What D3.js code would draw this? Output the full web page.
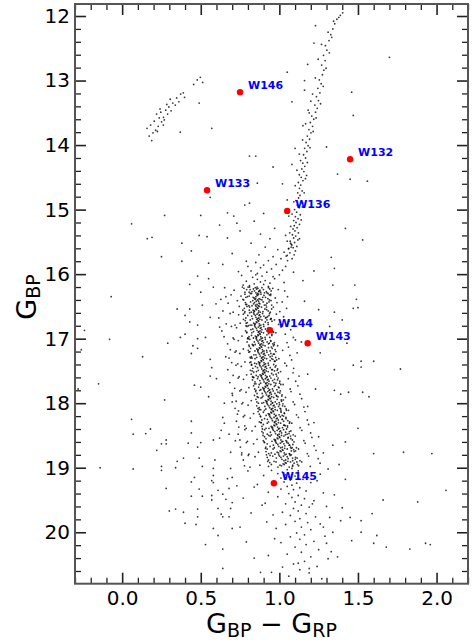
<!DOCTYPE html>
<html>
<head>
<meta charset="utf-8">
<script src="https://cdn.jsdelivr.net/npm/d3@7"></script>
<style>
  body { margin: 0; background: #fff; }
  svg { display: block; font-family: "DejaVu Sans", sans-serif; }
</style>
</head>
<body>
<svg width="472" height="643"></svg>
<script>
// ---- Data: [G_BP - G_RP, G_BP]

const giantBranch = [
  [1.052,15.79],[1.081,15.76],[1.043,15.72],[1.094,15.70],[1.067,15.67],[1.102,15.64],[1.058,15.61],[1.088,15.59],[1.111,15.57],[1.076,15.54],
  [1.097,15.51],[1.069,15.49],[1.118,15.47],[1.091,15.44],[1.104,15.41],[1.083,15.39],[1.121,15.36],[1.099,15.33],[1.087,15.30],[1.113,15.28],
  [1.095,15.25],[1.128,15.23],[1.106,15.20],[1.091,15.17],[1.119,15.14],[1.102,15.11],[1.133,15.08],[1.110,15.04],[1.097,15.00],[1.126,14.97],
  [1.114,14.93],[1.139,14.89],[1.105,14.86],[1.122,14.82],[1.131,14.78],[1.117,14.74],[1.145,14.71],[1.128,14.67],[1.136,14.62],[1.121,14.58],
  [1.150,14.55],[1.139,14.50],[1.127,14.46],[1.156,14.41],[1.143,14.37],[1.162,14.33],[1.149,14.28],[1.135,14.24],[1.167,14.20],[1.154,14.15],
  [1.175,14.10],[1.161,14.05],[1.183,14.01],[1.170,13.96],[1.192,13.91],[1.178,13.86],[1.201,13.81],[1.188,13.76],[1.211,13.71],[1.197,13.65],
  [1.219,13.60],[1.206,13.55],[1.230,13.49],[1.241,13.43],[1.226,13.38],[1.249,13.31],[1.236,13.25],[1.258,13.19],[1.245,13.12],[1.266,13.05],
  [1.254,12.99],[1.274,12.91],[1.283,12.84],[1.269,12.76],[1.291,12.69],[1.281,12.61],[1.302,12.53],[1.293,12.46],[1.316,12.38],[1.327,12.29],
  [1.340,12.20],[1.352,12.12],[1.366,12.05],[1.388,11.99],[1.403,11.95],[1.345,12.08],
  [1.05,14.85],[1.02,14.60],[1.08,14.30],[1.22,12.42],[1.16,13.00],[1.20,13.32],[1.06,15.10],[1.04,15.40],[1.15,13.70],[1.10,14.05],
  [1.18,12.75],[1.23,12.15],[1.072,15.26],[1.148,14.90],[1.071,15.52],[1.173,14.47]
];

const giantScatter = [
  [1.075,15.58],[1.128,15.45],[1.066,15.36],[1.139,15.16],[1.081,15.07],[1.147,14.96],[1.092,14.88],[1.158,14.74],[1.101,14.63],[1.166,14.52],
  [1.112,14.39],[1.178,14.27],[1.127,14.14],[1.195,14.04],[1.148,13.92],[1.215,13.79],[1.167,13.67],[1.234,13.58],[1.183,13.46],[1.262,13.36],
  [1.211,13.21],[1.279,13.09],[1.229,12.96],[1.297,12.81],[1.247,12.67],[1.318,12.57],[1.268,12.44],[1.333,12.33],[1.378,12.02],[1.310,12.25]
];

const horizontalBranch = [
  [.158,13.74],[.172,13.86],[.196,13.81],[.181,13.69],[.213,13.77],[.204,13.63],[.229,13.71],[.236,13.58],[.219,13.52],[.251,13.64],
  [.246,13.49],[.263,13.57],[.277,13.46],[.268,13.61],[.289,13.52],[.297,13.41],[.284,13.37],[.311,13.47],[.322,13.35],[.306,13.29],
  [.338,13.38],[.347,13.27],[.361,13.33],[.372,13.21],[.389,13.19],[.397,13.26],[.455,13.06],[.478,12.99],[.497,12.95],[.512,13.03],
  [.188,13.93],[.224,13.79],[.262,13.69],[.241,13.44]
];

const turnoffStars = [
  [.84,16.15],[.88,16.12],[.81,16.18],[.91,16.10],[.86,16.08],[.79,16.11],[.94,16.14],[.83,16.05],[.89,16.03],[.97,16.07],
  [.76,16.02],[.86,15.99],[.92,15.97],[1.00,16.01],[.82,15.95],[.95,15.92],[.88,15.90],[1.02,15.94],[.74,15.96],[.90,15.86],
  [.98,15.85],[.85,15.82],[1.04,15.88],[.93,15.79],[1.01,15.76],[.79,15.80],[.96,15.73],[1.05,15.71],[.87,15.70],[1.03,15.66],
  [.70,15.68],[.99,15.62],[1.06,15.60],[.91,15.58],[1.08,15.55],[.82,15.52],[1.05,15.49],[.94,15.45],[.67,15.44],[.88,15.38],
  [.75,15.33],[.97,15.29],[.62,15.24],[.84,15.18],[.71,15.10],[.90,15.06],[.81,16.20],[.93,16.19],[.77,16.17],[1.03,16.13],
  [.90,16.16],[.85,16.01],[.96,16.04],[.80,15.88],[1.09,15.97]
];

const mainSequence = [
  [.847,16.21],[.872,16.26],[.835,16.23],[.881,16.28],[.858,16.20],[.899,16.24],[.826,16.27],[.864,16.22],[.851,16.29],[.877,16.25],[.842,16.26],[.889,16.21],[.869,16.27],[.814,16.24],[.856,16.23],[.905,16.29],
  [.712,16.25],[.958,16.22],[.781,16.28],[1.034,16.26],[.652,16.21],[.921,16.29],[.765,16.20],[.993,16.24],
  [.862,16.33],[.839,16.37],[.883,16.31],[.851,16.35],[.823,16.30],[.871,16.38],[.857,16.32],[.894,16.36],[.845,16.39],[.808,16.34],[.868,16.31],[.879,16.39],[.833,16.36],[.861,16.30],[.902,16.33],[.849,16.38],
  [.756,16.34],[.974,16.37],[.693,16.32],[.928,16.30],[.628,16.39],[1.052,16.35],[.787,16.36],[.945,16.31],
  [.853,16.42],[.876,16.46],[.831,16.41],[.866,16.49],[.842,16.44],[.889,16.40],[.858,16.47],[.817,16.43],[.871,16.45],[.848,16.48],[.897,16.43],[.836,16.46],[.862,16.40],[.905,16.48],[.826,16.49],[.868,16.42],
  [.733,16.41],[.951,16.48],[.674,16.45],[1.018,16.43],[.792,16.47],[.937,16.40],[.597,16.46],[.985,16.44],
  [.864,16.53],[.842,16.57],[.887,16.51],[.855,16.55],[.821,16.59],[.873,16.50],[.849,16.54],[.896,16.58],[.861,16.52],[.833,16.56],[.878,16.59],[.811,16.51],[.869,16.57],[.852,16.50],[.908,16.54],[.839,16.58],
  [.768,16.56],[.962,16.51],[.706,16.59],[1.046,16.53],[.745,16.50],[.919,16.55],[.641,16.57],[1.003,16.58],
  [.858,16.62],[.881,16.66],[.836,16.60],[.869,16.68],[.847,16.64],[.893,16.61],[.862,16.69],[.824,16.65],[.875,16.63],[.851,16.67],[.902,16.65],[.839,16.62],[.866,16.60],[.912,16.68],[.829,16.69],[.871,16.64],
  [.741,16.63],[.948,16.69],[.687,16.61],[1.027,16.66],[.779,16.60],[.934,16.64],[.615,16.68],[.981,16.62],
  [.868,16.73],[.846,16.77],[.889,16.71],[.857,16.75],[.825,16.79],[.876,16.70],[.853,16.74],[.899,16.78],[.864,16.72],[.837,16.76],[.882,16.79],[.815,16.71],[.872,16.77],[.856,16.70],[.911,16.74],[.843,16.78],
  [.751,16.76],[.969,16.71],[.718,16.79],[1.061,16.73],[.772,16.70],[.928,16.75],[.662,16.77],[.995,16.78],
  [.866,16.82],[.889,16.86],[.843,16.80],[.877,16.88],[.854,16.84],[.901,16.81],[.869,16.89],[.831,16.85],[.884,16.83],[.858,16.87],[.912,16.85],[.847,16.82],[.874,16.80],[.921,16.88],[.836,16.89],[.879,16.84],
  [.728,16.83],[.956,16.89],[.695,16.81],[1.072,16.86],[.788,16.80],[.941,16.84],[.634,16.88],[1.011,16.82],
  [.878,16.93],[.856,16.97],[.899,16.91],[.867,16.95],[.835,16.99],[.886,16.90],[.863,16.94],[.909,16.98],[.874,16.92],[.847,16.96],[.892,16.99],[.825,16.91],[.882,16.97],[.866,16.90],[.921,16.94],[.853,16.98],
  [.762,16.96],[.978,16.91],[.706,16.99],[1.038,16.93],[.793,16.90],[.952,16.95],[.648,16.97],[1.089,16.98],
  [.876,17.02],[.899,17.06],[.853,17.00],[.887,17.08],[.864,17.04],[.911,17.01],[.879,17.09],[.841,17.05],[.894,17.03],[.868,17.07],[.922,17.05],[.857,17.02],[.884,17.00],[.931,17.08],[.846,17.09],[.889,17.04],
  [.739,17.03],[.967,17.09],[.712,17.01],[1.049,17.06],[.798,17.00],[.946,17.04],[.671,17.08],[1.102,17.02],
  [.888,17.13],[.866,17.17],[.909,17.11],[.877,17.15],[.845,17.19],[.896,17.10],[.873,17.14],[.919,17.18],[.884,17.12],[.857,17.16],[.902,17.19],[.835,17.11],[.892,17.17],[.876,17.10],[.931,17.14],[.863,17.18],
  [.771,17.16],[.989,17.11],[.725,17.19],[1.058,17.13],[.806,17.10],[.955,17.15],[.688,17.17],[1.021,17.18],
  [.886,17.22],[.909,17.26],[.863,17.20],[.897,17.28],[.874,17.24],[.921,17.21],[.889,17.29],[.851,17.25],[.904,17.23],[.878,17.27],[.932,17.25],[.867,17.22],[.894,17.20],[.941,17.28],[.856,17.29],[.899,17.24],
  [.749,17.23],[.977,17.29],[.718,17.21],[1.067,17.26],[.812,17.20],[.962,17.24],[.659,17.28],[1.113,17.22],
  [.898,17.33],[.876,17.37],[.919,17.31],[.887,17.35],[.855,17.39],[.906,17.30],[.883,17.34],[.929,17.38],[.894,17.32],[.867,17.36],[.912,17.39],[.845,17.31],[.902,17.37],[.886,17.30],[.941,17.34],[.873,17.38],
  [.781,17.36],[.997,17.31],[.736,17.39],[1.078,17.33],[.819,17.30],[.969,17.35],[.697,17.37],[1.035,17.38],
  [.896,17.42],[.919,17.46],[.873,17.40],[.907,17.48],[.884,17.44],[.931,17.41],[.899,17.49],[.861,17.45],[.914,17.43],[.888,17.47],[.942,17.45],[.877,17.42],[.904,17.40],[.951,17.48],[.866,17.49],[.909,17.44],
  [.758,17.43],[.986,17.49],[.724,17.41],[1.091,17.46],[.823,17.40],[.973,17.44],[.672,17.48],[1.046,17.42],
  [.908,17.53],[.886,17.57],[.929,17.51],[.897,17.55],[.865,17.59],[.916,17.50],[.893,17.54],[.939,17.58],[.904,17.52],[.877,17.56],[.922,17.59],[.855,17.51],[.912,17.57],[.896,17.50],[.951,17.54],[.883,17.58],
  [.792,17.56],[1.008,17.51],[.744,17.59],[1.087,17.53],[.827,17.50],[.979,17.55],[.706,17.57],[1.125,17.58],
  [.911,17.62],[.934,17.66],[.888,17.60],[.922,17.68],[.899,17.64],[.946,17.61],[.914,17.69],[.876,17.65],[.929,17.63],[.903,17.67],[.957,17.65],[.892,17.62],[.919,17.60],[.966,17.68],[.881,17.69],[.924,17.64],
  [.772,17.63],[1.001,17.69],[.738,17.61],[1.104,17.66],[.835,17.60],[.988,17.64],[.685,17.68],[1.057,17.62],
  [.925,17.73],[.903,17.77],[.946,17.71],[.914,17.75],[.882,17.79],[.933,17.70],[.910,17.74],[.956,17.78],[.921,17.72],[.894,17.76],[.939,17.79],[.872,17.71],[.929,17.77],[.913,17.70],[.968,17.74],[.900,17.78],
  [.806,17.76],[1.024,17.71],[.757,17.79],[1.118,17.73],[.842,17.70],[.994,17.75],[.716,17.77],[1.069,17.78],
  [.926,17.82],[.949,17.86],[.903,17.80],[.937,17.88],[.914,17.84],[.961,17.81],[.929,17.89],[.891,17.85],[.944,17.83],[.918,17.87],[.972,17.85],[.907,17.82],[.934,17.80],[.981,17.88],[.896,17.89],[.939,17.84],
  [.788,17.83],[1.016,17.89],[.749,17.81],[1.131,17.86],[.851,17.80],[1.003,17.84],[.702,17.88],[1.074,17.82],
  [.943,17.93],[.921,17.97],[.964,17.91],[.932,17.95],[.900,17.99],[.951,17.90],[.928,17.94],[.974,17.98],[.939,17.92],[.912,17.96],[.957,17.99],[.890,17.91],[.947,17.97],[.931,17.90],[.986,17.94],[.918,17.98],
  [.821,17.96],[1.039,17.91],[.768,17.99],[1.142,17.93],[.859,17.90],[1.012,17.95],[.725,17.97],[1.088,17.98],
  [.946,18.02],[.972,18.06],[.921,18.00],[.958,18.08],[.933,18.04],[.984,18.01],[.949,18.09],[.908,18.05],[.966,18.03],[.938,18.07],[.995,18.05],[.925,18.02],[.955,18.00],[1.004,18.08],[.914,18.09],[.961,18.04],
  [.801,18.03],[1.043,18.09],[.762,18.01],[1.156,18.06],[.867,18.00],[1.021,18.04],[.718,18.08],[1.097,18.02],
  [.963,18.13],[.938,18.17],[.987,18.11],[.951,18.15],[.916,18.19],[.973,18.10],[.946,18.14],[.998,18.18],[.959,18.12],[.929,18.16],[.979,18.19],[.905,18.11],[.968,18.17],[.950,18.10],[1.011,18.14],[.934,18.18],
  [.836,18.16],[1.058,18.11],[.779,18.19],[1.163,18.13],[.872,18.10],[1.031,18.15],[.733,18.17],[1.109,18.18],
  [.966,18.22],[.993,18.26],[.939,18.20],[.978,18.28],[.951,18.24],[1.006,18.21],[.969,18.29],[.924,18.25],[.987,18.23],[.956,18.27],[1.018,18.25],[.943,18.22],[.975,18.20],[1.027,18.28],[.931,18.29],[.981,18.24],
  [.815,18.23],[1.066,18.29],[.771,18.21],[1.178,18.26],[.879,18.20],[1.042,18.24],[.727,18.28],[1.121,18.22],
  [.983,18.33],[.957,18.37],[1.008,18.31],[.971,18.35],[.934,18.39],[.994,18.30],[.966,18.34],[1.020,18.38],[.979,18.32],[.948,18.36],[1.001,18.39],[.923,18.31],[.989,18.37],[.969,18.30],[1.033,18.34],[.953,18.38],
  [.847,18.36],[1.079,18.31],[.789,18.39],[1.186,18.33],[.885,18.30],[1.051,18.35],[.742,18.37],[1.132,18.38],
  [.986,18.42],[1.014,18.46],[.958,18.40],[.999,18.48],[.971,18.44],[1.027,18.41],[.989,18.49],[.943,18.45],[1.008,18.43],[.976,18.47],[1.040,18.45],[.962,18.42],[.995,18.40],[1.049,18.48],[.949,18.49],[1.002,18.44],
  [.826,18.43],[1.088,18.49],[.781,18.41],[1.199,18.46],[.892,18.40],[1.064,18.44],[.738,18.48],[1.143,18.42],
  [1.003,18.53],[.976,18.57],[1.029,18.51],[.991,18.55],[.953,18.59],[1.014,18.50],[.986,18.54],[1.042,18.58],[.999,18.52],[.967,18.56],[1.022,18.59],[.941,18.51],[1.010,18.57],[.989,18.50],[1.055,18.54],[.972,18.58],
  [.858,18.56],[1.101,18.51],[.797,18.59],[1.207,18.53],[.896,18.50],[1.073,18.55],[.749,18.57],[1.156,18.58],
  [1.006,18.62],[1.035,18.66],[.977,18.60],[1.019,18.68],[.990,18.64],[1.048,18.61],[1.009,18.69],[.962,18.65],[1.029,18.63],[.996,18.67],[1.062,18.65],[.981,18.62],[1.015,18.60],[1.071,18.68],[.968,18.69],
  [.836,18.63],[1.109,18.69],[.790,18.61],[1.221,18.66],[.903,18.60],[1.086,18.64],[.752,18.68],[1.164,18.62],
  [1.023,18.73],[.995,18.77],[1.050,18.71],[1.011,18.75],[.972,18.79],[1.034,18.70],[1.005,18.74],[1.063,18.78],[1.019,18.72],[.986,18.76],[1.043,18.79],[.960,18.71],[1.031,18.77],[1.076,18.74],
  [.867,18.76],[1.122,18.71],[.806,18.79],[1.233,18.73],[.911,18.70],[1.094,18.75],[.761,18.77],[1.178,18.78],
  [1.026,18.82],[1.056,18.86],[.996,18.80],[1.040,18.88],[1.010,18.84],[1.069,18.81],[1.029,18.89],[.981,18.85],[1.050,18.83],[1.016,18.87],[1.084,18.85],[1.001,18.82],[1.036,18.80],
  [.845,18.83],[1.131,18.89],[.802,18.81],[1.247,18.86],[.918,18.80],[1.103,18.84],[.771,18.88],[1.186,18.82],
  [1.043,18.93],[1.014,18.97],[1.071,18.91],[1.031,18.95],[.991,18.99],[1.054,18.90],[1.024,18.94],[1.084,18.98],[1.038,18.92],[1.004,18.96],[1.063,18.99],[.979,18.91],
  [.876,18.96],[1.142,18.91],[.813,18.99],[1.259,18.93],[.926,18.90],[1.116,18.95],[.778,18.97],[1.197,18.98]
];

// broader edge of the main sequence
const mainSequenceEdge = [
  [.792,16.24],[.931,16.21],[.808,16.28],[.948,16.26],[.775,16.22],[.917,16.27],[.801,16.20],[.939,16.23],
  [.781,16.31],[.927,16.38],[.797,16.35],[.944,16.33],[.768,16.39],[.912,16.36],[.815,16.30],[.936,16.32],
  [.786,16.47],[.934,16.43],[.773,16.40],[.921,16.45],[.806,16.49],[.947,16.41],[.784,16.44],[.915,16.48],
  [.794,16.50],[.929,16.57],[.777,16.53],[.942,16.59],[.809,16.56],[.918,16.51],[.781,16.58],[.951,16.54],
  [.787,16.68],[.938,16.61],[.799,16.64],[.925,16.66],[.771,16.62],[.947,16.69],[.811,16.60],[.916,16.67],
  [.796,16.75],[.943,16.70],[.783,16.72],[.929,16.78],[.814,16.79],[.953,16.73],[.789,16.76],[.921,16.71],
  [.803,16.80],[.948,16.85],[.785,16.88],[.934,16.83],[.819,16.86],[.958,16.89],[.794,16.81],[.926,16.84],
  [.807,16.97],[.953,16.93],[.792,16.91],[.939,16.98],[.823,16.95],[.963,16.90],[.799,16.99],[.931,16.92],
  [.812,17.01],[.958,17.08],[.795,17.05],[.944,17.03],[.828,17.09],[.968,17.06],[.804,17.00],[.936,17.07],
  [.817,17.15],[.963,17.11],[.802,17.18],[.949,17.13],[.833,17.10],[.973,17.17],[.809,17.12],[.941,17.19],
  [.822,17.28],[.968,17.24],[.806,17.21],[.954,17.27],[.838,17.25],[.978,17.20],[.814,17.29],[.946,17.23],
  [.827,17.30],[.973,17.35],[.812,17.37],[.959,17.32],[.843,17.38],[.983,17.33],[.819,17.36],[.951,17.31],
  [.831,17.46],[.978,17.42],[.816,17.49],[.964,17.40],[.848,17.43],[.989,17.47],[.823,17.41],[.956,17.48],
  [.837,17.52],[.983,17.58],[.821,17.55],[.969,17.50],[.853,17.57],[.994,17.53],[.829,17.59],[.961,17.56],
  [.845,17.67],[.992,17.61],[.829,17.64],[.978,17.69],[.861,17.62],[1.003,17.66],[.836,17.60],[.969,17.63],
  [.851,17.70],[.998,17.76],[.836,17.73],[.984,17.79],[.868,17.75],[1.009,17.71],[.843,17.78],[.975,17.72],
  [.858,17.85],[1.006,17.81],[.842,17.88],[.991,17.83],[.875,17.80],[1.017,17.87],[.849,17.82],[.983,17.89],
  [.866,17.91],[1.014,17.97],[.851,17.94],[.999,17.99],[.883,17.92],[1.025,17.95],[.857,17.98],[.991,17.90],
  [.872,18.07],[1.023,18.01],[.856,18.04],[1.009,18.09],[.889,18.00],[1.035,18.05],[.864,18.08],[1.001,18.02],
  [.881,18.10],[1.033,18.16],[.865,18.13],[1.018,18.19],[.898,18.14],[1.045,18.11],[.873,18.17],[1.010,18.12],
  [.889,18.26],[1.042,18.22],[.873,18.29],[1.027,18.20],[.906,18.24],[1.054,18.27],[.881,18.21],[1.019,18.25],
  [.898,18.33],[1.052,18.37],[.882,18.30],[1.037,18.35],[.915,18.39],[1.064,18.31],[.889,18.36],[1.028,18.34],
  [.906,18.41],[1.061,18.47],[.889,18.44],[1.046,18.40],[.923,18.48],[1.073,18.43],[.897,18.46],[1.038,18.49],
  [.915,18.55],[1.071,18.51],[.898,18.58],[1.056,18.53],[.932,18.50],[1.083,18.57],[.906,18.52],[1.047,18.59],
  [.923,18.63],[1.081,18.69],[.906,18.61],[1.066,18.65],[.941,18.67],[1.093,18.60],[.914,18.68],[1.057,18.62],
  [.932,18.78],[1.091,18.72],[.915,18.75],[1.075,18.70],[.949,18.77],[1.103,18.74],[.922,18.71],[1.066,18.79],
  [.941,18.81],[1.101,18.87],[.923,18.84],[1.085,18.89],[.958,18.82],[1.113,18.85],[.931,18.88],[1.076,18.80],
  [.949,18.95],[1.111,18.91],[.931,18.98],[1.094,18.93],[.966,18.90],[1.123,18.97],[.939,18.92],[1.085,18.96]
];

const faintSequence = [
  [1.05,19.03],[1.02,19.07],[1.08,19.01],[.99,19.09],[1.12,19.05],[1.04,19.11],[.95,19.04],[1.17,19.08],[1.06,19.14],[1.01,19.16],
  [1.10,19.13],[.90,19.12],[1.26,19.10],[1.07,19.19],[1.03,19.22],[1.11,19.24],[.97,19.21],[1.15,19.18],[1.08,19.27],[1.05,19.29],
  [.86,19.26],[1.20,19.23],[1.13,19.31],[1.09,19.34],[1.01,19.33],[1.17,19.36],[.93,19.38],[1.06,19.40],[1.28,19.39],[1.12,19.43],
  [1.08,19.46],[1.16,19.48],[.99,19.45],[1.22,19.51],[1.10,19.53],[1.04,19.56],[1.14,19.58],[.91,19.55],[1.19,19.61],[1.09,19.63],
  [1.30,19.60],[1.12,19.67],[1.02,19.69],[1.17,19.71],[1.07,19.74],[.96,19.73],[1.23,19.76],[1.13,19.79],[1.10,19.83],[1.18,19.85],
  [1.04,19.88],[1.26,19.87],[1.14,19.92],[.98,19.94],[1.20,19.96],[1.11,20.01],[1.16,20.04],[1.07,20.07],[1.29,20.06],[1.13,20.11],
  [1.22,20.14],[1.01,20.16],[1.17,20.19],[1.10,20.23],[1.25,20.27],[1.14,20.31],[1.05,20.34],[1.20,20.38],[1.31,20.41],[1.16,20.45],
  [1.09,20.49],[1.24,20.53],[1.13,20.58],[1.19,20.63],[1.06,20.68],[1.27,20.72]
];

const fieldStars = [
  [.81,14.17],[.85,14.17],[.96,14.34],[.56,14.81],[.37,13.80],[.57,13.74],[.49,13.35],[1.05,12.87],[1.16,13.15],[1.08,13.33],
  [1.19,13.50],[.86,14.59],[.67,15.05],[.73,15.21],[.81,14.90],[.78,14.93],[1.70,12.64],[1.46,13.18],[1.47,13.54],[1.30,14.03],
  [1.37,14.45],[1.45,14.53],[1.56,14.56],
  [.27,15.09],[.50,15.09],[.06,15.22],[.16,15.45],[.19,15.43],[.49,15.40],[.54,15.42],[.38,15.52],[.44,15.64],[.25,15.73],
  [.38,15.80],[.55,15.83],[.55,16.07],[.48,16.03],[.43,16.16],[-.07,16.35],[.50,16.28],[.51,16.48],[.35,16.54],[.43,16.54],
  [.40,16.64],[.56,16.67],[.43,16.74],[.48,16.79],[-.24,16.87],[-.08,17.01],[.37,16.98],[.40,16.93],[.48,17.00],[.53,16.98],
  [.29,17.07],[.45,17.11],[.48,17.15],[.44,17.23],[-.26,17.17],[.13,17.28],[.56,17.32],[.57,17.45],[.56,17.58],[-.15,17.70],
  [.46,17.72],[.50,17.75],[.55,17.90],[-.28,17.78],
  [1.42,15.29],[1.53,15.47],[1.33,15.74],[1.35,15.91],[1.34,16.17],[1.48,16.17],[1.49,16.39],[1.47,16.53],[1.50,16.52],[1.35,16.59],
  [1.40,16.71],[1.32,16.81],[1.43,17.07],[1.52,17.35],[1.60,17.35],[1.47,17.41],[1.52,17.44],[1.77,17.47],[1.35,17.48],[1.35,17.80],
  [1.39,17.86],[1.44,17.83],[1.53,17.83],[1.57,17.90],
  [.27,17.95],[.65,18.00],[.70,17.98],[.06,18.25],[.44,18.28],[.64,18.22],[.65,18.31],[.07,18.48],[.15,18.47],[.18,18.40],
  [.44,18.46],[.63,18.42],[.68,18.48],[.28,18.57],[.28,18.63],[.25,18.63],[.42,18.62],[.50,18.61],[.48,18.68],[.58,18.57],
  [.62,18.54],[.22,18.73],[.69,18.76],[.35,18.90],[.39,18.85],[.49,18.85],[.59,18.88],[-.14,19.00],[.07,19.02],[.25,19.04],
  [.25,18.98],[.34,19.00],[.51,18.98],[.58,19.12],[.58,19.01],[.69,19.01],[.46,19.15],[.57,19.20],[.58,19.23],[.67,19.17],
  [.70,19.15],[.44,19.22],[.28,19.32],[.49,19.33],[.44,19.44],[.51,19.44],[.57,19.43],[.57,19.50],[.61,19.35],[.64,19.41],
  [.66,19.49],[.68,19.32],[.70,19.54],[.61,19.63],[.69,19.63],[.30,19.67],[.34,19.64],[.39,19.69],[.48,19.64],[.48,19.76],
  [.63,19.72],[.64,19.76],[.68,19.76],[.40,19.86],[.47,19.88],[.58,19.94],[.70,19.94],[.61,20.05],[.53,20.19],[.64,20.26],
  [.64,20.56],
  [1.79,18.76],[1.97,18.78],[1.60,18.78],[1.50,18.39],[1.42,18.60],[1.34,18.65],[2.06,19.35],[1.88,19.53],[1.59,19.71],[1.66,19.50],
  [1.52,19.82],[1.45,19.77],[1.40,19.62],[1.39,19.82],[1.32,19.77],[1.28,19.92],[1.34,20.00],[1.62,20.05],[1.60,20.17],[1.93,20.17],
  [1.96,20.19],[1.83,20.26],[1.68,20.23],[1.46,20.13],[1.52,20.00],[1.37,20.38],[1.19,20.56],[1.02,20.54],[1.30,20.17],
  [.74,18.12],[.78,18.35],[.72,18.58],[.76,18.80],[.80,19.05],[.73,19.28],[.77,19.47],[.82,19.70],[.75,19.92],[.79,20.15],
  [.84,20.40],[.88,20.62],[1.18,18.05],[1.22,18.30],[1.25,18.52],[1.28,18.77],[1.31,19.02],[1.24,19.20],[1.35,19.42],[1.21,19.56],
  [1.33,20.30],[1.12,20.48],[.93,20.36],[.97,20.10],[.92,19.84],[.89,19.58],[.84,19.30],[.95,20.62],[1.38,18.95],[1.42,19.18],
  [.66,16.35],[.62,16.82],[.68,17.30],[.60,17.62],[.70,17.85],[1.16,16.42],[1.20,16.78],[1.14,17.05],[1.26,17.22],[1.18,17.55],
  [1.23,17.78],[1.15,16.10],[1.25,16.55],[.64,15.85],[.58,16.20],[1.22,15.95]
];

// labelled stars
const starNames = ['W146', 'W132', 'W133', 'W136', 'W144', 'W143', 'W145'];
const starColour = [0.75, 1.45, 0.54, 1.05, 0.94, 1.18, 0.965];
const starMag = [13.18, 14.22, 14.70, 15.02, 16.87, 17.07, 19.24];

const xMajorTicks = [0, 0.5, 1.0, 1.5, 2.0];
const yMajorTicks = [12, 13, 14, 15, 16, 17, 18, 19, 20];

// ---- Escalas
const svg = d3.select('svg');
const margens = { left: 75, right: 4, top: 4, bottom: 59.3 };
const width = +svg.attr('width');
const height = +svg.attr('height');

const x = d3.scaleLinear()
    .domain([-0.3, 2.2])
    .range([margens.left, width - margens.right]);

const y = d3.scaleLinear()
    .domain([11.814, 20.797])
    .range([margens.top, height - margens.bottom]);  // magnitudes grow downward

// ---- Estrelas
const allStars = [...fieldStars, ...faintSequence, ...mainSequenceEdge, ...mainSequence, ...turnoffStars,
                  ...horizontalBranch, ...giantScatter, ...giantBranch];

svg.append('g')
    .attr('id', 'stars')
    .selectAll('circle')
    .data(allStars)
    .join('circle')
    .attr('cx', d => x(d[0]))
    .attr('cy', d => y(d[1]))
    .attr('r', 0.9)
    .attr('fill', '#000')
    .attr('fill-opacity', 0.78);

// ---- Eixos (ticks inward on all four sides)
const xMinor = d3.range(-3, 23).filter(i => i % 5 !== 0).map(i => i / 10);
const yMinor = d3.range(60, 104).filter(i => i % 5 !== 0).map(i => i / 5);

const bottomY = height - margens.bottom;
const rightX = width - margens.right;

function styleAxis(g, w) {
    g.select('.domain').remove();
    g.selectAll('.tick line').attr('stroke', '#222').attr('stroke-width', w);
    g.selectAll('.tick text')
        .attr('fill', '#000')
        .style('font-size', '20px')
        .style('font-family', '"DejaVu Sans", sans-serif');
}

svg.append('g').attr('transform', `translate(0,${bottomY})`)
    .call(d3.axisBottom(x).tickValues(xMinor).tickSize(-6).tickFormat(''))
    .call(g => styleAxis(g, 1.3));
svg.append('g').attr('transform', `translate(0,${bottomY})`)
    .call(d3.axisBottom(x).tickValues(xMajorTicks).tickSize(-11).tickPadding(7).tickFormat(d3.format('.1f')))
    .call(g => styleAxis(g, 1.6));
svg.append('g').attr('transform', `translate(0,${margens.top})`)
    .call(d3.axisTop(x).tickValues(xMinor).tickSize(-6).tickFormat(''))
    .call(g => styleAxis(g, 1.3));
svg.append('g').attr('transform', `translate(0,${margens.top})`)
    .call(d3.axisTop(x).tickValues(xMajorTicks).tickSize(-11).tickFormat(''))
    .call(g => styleAxis(g, 1.6));

svg.append('g').attr('transform', `translate(${margens.left},0)`)
    .call(d3.axisLeft(y).tickValues(yMinor).tickSize(-6).tickFormat(''))
    .call(g => styleAxis(g, 1.3));
svg.append('g').attr('transform', `translate(${margens.left},0)`)
    .call(d3.axisLeft(y).tickValues(yMajorTicks).tickSize(-11).tickPadding(5).tickFormat(d3.format('d')))
    .call(g => styleAxis(g, 1.6));
svg.append('g').attr('transform', `translate(${rightX},0)`)
    .call(d3.axisRight(y).tickValues(yMinor).tickSize(-6).tickFormat(''))
    .call(g => styleAxis(g, 1.3));
svg.append('g').attr('transform', `translate(${rightX},0)`)
    .call(d3.axisRight(y).tickValues(yMajorTicks).tickSize(-11).tickFormat(''))
    .call(g => styleAxis(g, 1.6));

// frame
svg.append('rect')
    .attr('x', margens.left)
    .attr('y', margens.top)
    .attr('width', rightX - margens.left)
    .attr('height', bottomY - margens.top)
    .attr('fill', 'none')
    .attr('stroke', '#555')
    .attr('stroke-width', 2);

// ---- Estrelas marcadas
const named = starNames.map((n, i) => ({ name: n, c: starColour[i], m: starMag[i] }));

svg.append('g')
    .selectAll('circle')
    .data(named)
    .join('circle')
    .attr('cx', d => x(d.c))
    .attr('cy', d => y(d.m))
    .attr('r', 3.2)
    .attr('fill', '#ff0000');

svg.append('g')
    .selectAll('text')
    .data(named)
    .join('text')
    .attr('x', d => x(d.c) + 8)
    .attr('y', d => y(d.m) - 3)
    .attr('fill', '#0000ff')
    .style('font-size', '11px')
    .style('font-weight', 'bold')
    .text(d => d.name);

// ---- Labels
const xLabel = svg.append('text')
    .attr('x', (margens.left + rightX) / 2)
    .attr('y', 633)
    .attr('text-anchor', 'middle')
    .attr('fill', '#000')
    .style('font-size', '27px');
xLabel.append('tspan').text('G');
xLabel.append('tspan').attr('dy', 4).style('font-size', '19px').text('BP');
xLabel.append('tspan').attr('dy', -4).text(' \u2212 G');
xLabel.append('tspan').attr('dy', 4).style('font-size', '19px').text('RP');

const yLabel = svg.append('text')
    .attr('transform', 'translate(36,297) rotate(-90)')
    .attr('text-anchor', 'middle')
    .attr('fill', '#000')
    .style('font-size', '27px');
yLabel.append('tspan').text('G');
yLabel.append('tspan').attr('dy', 4).style('font-size', '19px').text('BP');
</script>
</body>
</html>
